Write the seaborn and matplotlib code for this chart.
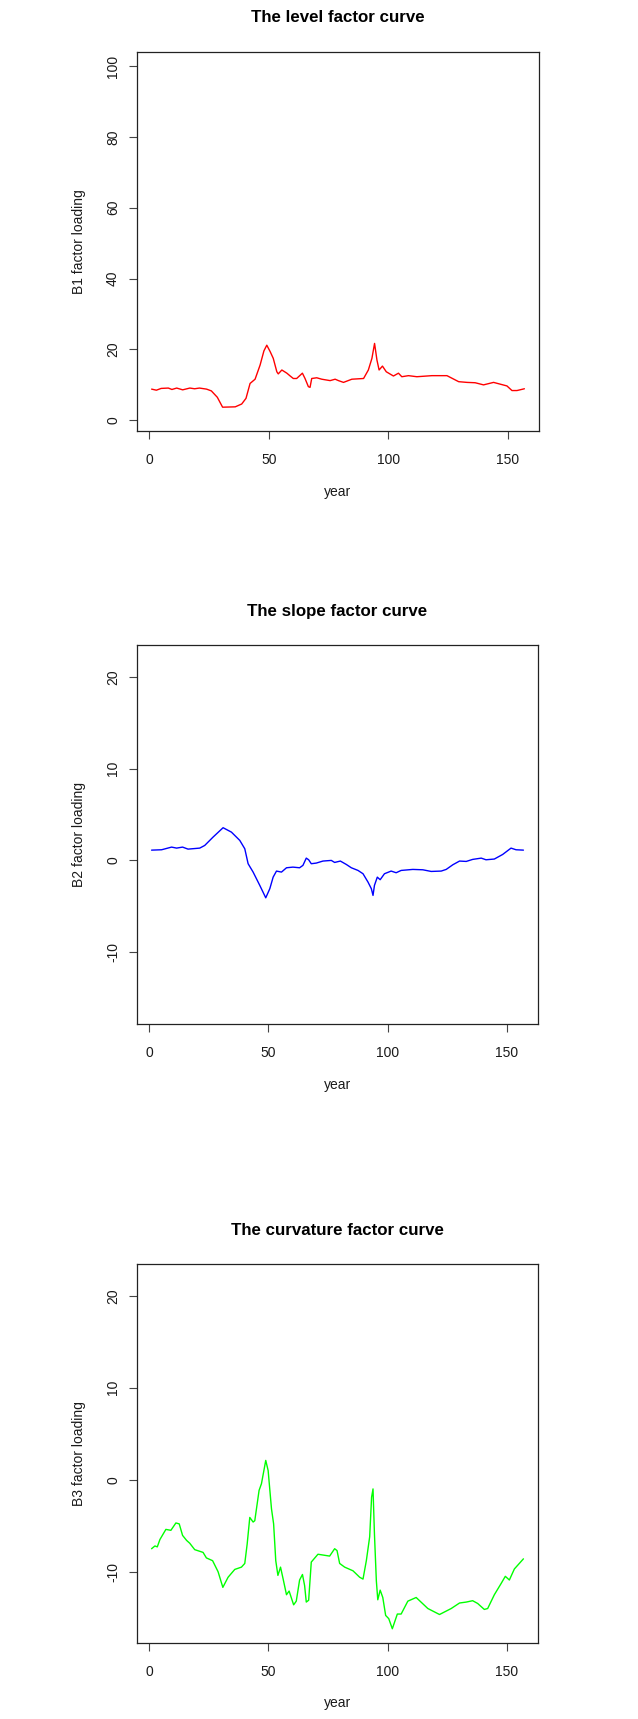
import numpy as np
import pandas as pd
import matplotlib
matplotlib.use("Agg")
import matplotlib.pyplot as plt
import seaborn as sns

# ---- data ----
level_years = [1, 3, 5, 8, 9.5, 11.5, 14, 17, 19, 21, 24, 26, 28.5, 30.7, 36, 38.7, 40.5,
               42.2, 44.3, 46.4, 48, 49.2, 50.6, 51.9, 53.4, 54, 55.5, 57.6, 59, 60.3, 61.7,
               64.1, 65.2, 66.6, 67.3, 68, 70.1, 72.2, 75.7, 77.8, 79.2, 81.3, 84.8, 89.7,
               91.7, 93.2, 94.3, 95.3, 96.2, 97.6, 99.2, 102.2, 104.3, 105.7, 108.5, 112,
               118.3, 124.6, 129.5, 133, 136.4, 139.9, 144.1, 146.9, 149.7, 151.8, 153.9, 157]
level_values = [8.8, 8.5, 9.0, 9.1, 8.7, 9.1, 8.6, 9.1, 8.9, 9.1, 8.8, 8.3, 6.5, 3.7, 3.8, 4.6, 6.2,
                10.4, 11.6, 15.6, 19.6, 21.2, 19.4, 17.5, 13.7, 13.1, 14.2, 13.3, 12.5, 11.8, 11.8,
                13.3, 11.8, 9.5, 9.3, 11.8, 12.0, 11.6, 11.2, 11.6, 11.2, 10.7, 11.6, 11.8,
                14.2, 17.5, 21.7, 17.0, 14.2, 15.3, 13.7, 12.5, 13.3, 12.3, 12.6, 12.3,
                12.6, 12.6, 10.9, 10.7, 10.6, 10.0, 10.7, 10.2, 9.7, 8.4, 8.4, 8.9]

slope_years = [1, 5.2, 9.4, 11.5, 14, 16.3, 21.2, 23.3, 26.8, 31, 34.5, 38, 40.1, 41.5, 43.6,
               46.4, 48.9, 50.6, 52, 53.4, 55.5, 57.6, 60.3, 63.1, 64.5, 65.9, 66.9, 68, 70.1,
               72.9, 76.4, 77.8, 80.2, 82.7, 84.8, 87.6, 89.7, 91.8, 93.2, 93.9, 94.5, 95.7,
               96.9, 98.7, 101.5, 103.6, 105.7, 110.6, 114.8, 118.3, 122.5, 124.6, 127.4,
               130.2, 133, 135.7, 139.3, 141.3, 144.8, 148.3, 151.8, 153.9, 157]
slope_values = [1.12, 1.16, 1.45, 1.34, 1.45, 1.23, 1.34, 1.63, 2.54, 3.56, 3.08, 2.18, 1.27, -0.36, -1.27,
                -2.72, -4.07, -3.08, -1.82, -1.16, -1.27, -0.80, -0.73, -0.80, -0.54, 0.25, 0.07, -0.36, -0.29,
                -0.07, 0.0, -0.22, -0.07, -0.44, -0.80, -1.09, -1.45, -2.36, -3.08, -3.81, -2.72, -1.82,
                -2.1, -1.45, -1.16, -1.34, -1.09, -0.98, -1.02, -1.2, -1.16, -0.98, -0.47,
                -0.07, -0.11, 0.11, 0.25, 0.07, 0.15, 0.65, 1.34, 1.16, 1.12]

curv_years = [1, 2.4, 3.4, 4.5, 7, 9.1, 11.2, 12.6, 14, 15.7, 17, 19.1, 22.6, 24, 26.6, 28.9,
              30.9, 33.1, 35.9, 38.7, 40.1, 41.1, 42.2, 43.6, 44.3, 46.1, 47.1, 48.9, 49.9,
              51.3, 52.2, 53.1, 54, 55.1, 56.2, 57.6, 58.7, 60.6, 61.7, 63.1, 64.3, 65.2, 65.9,
              66.9, 68, 70.8, 75.7, 77.8, 78.8, 79.9, 82, 85.5, 88.3, 89.7, 91.1, 92.5, 93.3,
              93.9, 94.5, 95.3, 95.9, 96.9, 98, 99.2, 100.5, 102, 104.1, 105.7, 108.5, 112,
              116.9, 121.8, 126.7, 130.2, 133, 135.7, 137.8, 140.6, 142, 144.8, 147.6, 149.4,
              151.1, 153.2, 157]
curv_values = [-7.5, -7.2, -7.3, -6.5, -5.4, -5.5, -4.7, -4.8, -6.05, -6.6, -6.9, -7.6, -7.9, -8.5, -8.8, -10.0,
               -11.7, -10.6, -9.75, -9.5, -9.1, -7.0, -4.1, -4.6, -4.45, -1.16, -0.43, 2.1, 1.0,
               -3.15, -4.8, -8.8, -10.4, -9.5, -10.8, -12.5, -12.1, -13.6, -13.2, -10.9, -10.3, -11.5, -13.3,
               -13.1, -8.95, -8.1, -8.3, -7.5, -7.7, -9.1, -9.5, -9.9, -10.6, -10.8, -8.8, -6.2, -1.9,
               -1.0, -5.9, -11.0, -13.05, -12.0, -12.8, -14.75, -15.1, -16.2, -14.6, -14.6, -13.2, -12.8,
               -14.0, -14.65, -14.0, -13.4, -13.3, -13.15, -13.45, -14.1, -14.0, -12.5, -11.3, -10.5,
               -10.9, -9.7, -8.6]

titles = ["The level factor curve", "The slope factor curve", "The curvature factor curve"]
ylabels = ["B1 factor loading", "B2 factor loading", "B3 factor loading"]
xlabel = "year"
x_ticks = [0, 50, 100, 150]
y_ticks_list = [[0, 20, 40, 60, 80, 100], [-10, 0, 10, 20], [-10, 0, 10, 20]]
colors = ["#FF0000", "#0000FF", "#00FF00"]

# ---- styling ----
sns.set_style("white")
plt.rcParams['font.family'] = ['Liberation Sans', 'DejaVu Sans']

W, H = 638, 1719
fig = plt.figure(figsize=(W / 100, H / 100), dpi=100)

def fx(px):
    return px / W

def fy(py):
    return 1 - py / H

# axes boxes in pixel coords (left, top, right, bottom)
boxes = [(136.7, 51.7, 539.3, 431.0), (136.7, 645.0, 538.3, 1024.3), (136.7, 1263.7, 538.3, 1643.3)]
ylims = [(-3.02, 104.04), (-17.84, 23.45), (-17.78, 23.48)]
title_y = [18, 611.7, 1230]
xlabel_y = [491.7, 1085, 1703.3]

series = [(level_years, level_values), (slope_years, slope_values), (curv_years, curv_values)]

text_color = "#1a1a1a"
lab_fs = 10.0
for i in range(3):
    l, t, r, b = boxes[i]
    ax = fig.add_axes([fx(l), fy(b), fx(r) - fx(l), (b - t) / H])
    df = pd.DataFrame({"year": series[i][0], "val": series[i][1]})
    sns.lineplot(data=df, x="year", y="val", ax=ax, color=colors[i], linewidth=1.0, estimator=None)
    ax.set_xlim(-5.24, 163.24)
    ax.set_ylim(*ylims[i])
    ax.set_xticks(x_ticks)
    ax.set_yticks(y_ticks_list[i])
    ax.set_xticklabels([str(v) for v in x_ticks])
    ax.set_yticklabels([str(v) for v in y_ticks_list[i]], rotation=90, va="center")
    ax.tick_params(axis="both", which="major", bottom=True, left=True, direction="out",
                   length=6, width=0.8, color="#444444", labelsize=lab_fs, labelcolor=text_color)
    ax.tick_params(axis="x", pad=9.5)
    ax.tick_params(axis="y", pad=6)
    for s in ax.spines.values():
        s.set_visible(True)
        s.set_color("#222222")
        s.set_linewidth(0.9)
    ax.set_xlabel("")
    ax.set_ylabel("")
    fig.text(fx((l + r) / 2), fy(title_y[i]), titles[i], ha="center", va="center",
             fontsize=12.2, fontweight="bold", color="black")
    fig.text(fx((l + r) / 2), fy(xlabel_y[i]), xlabel, ha="center", va="center",
             fontsize=lab_fs, color=text_color)
    fig.text(fx(79), fy((t + b) / 2), ylabels[i], ha="center", va="center",
             rotation=90, fontsize=lab_fs, color=text_color)

fig.savefig("out.png", dpi=100, facecolor="white")
